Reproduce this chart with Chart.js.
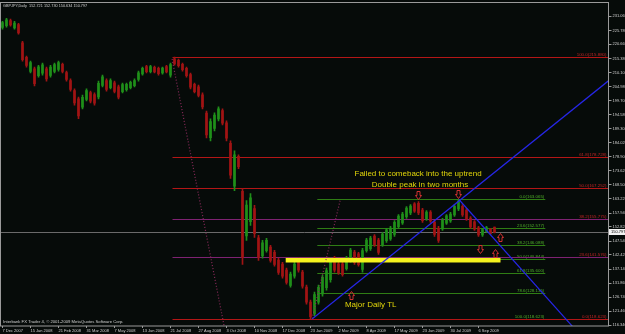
<!DOCTYPE html>
<html>
<head>
<meta charset="utf-8">
<script src="https://cdn.jsdelivr.net/npm/chart.js@4.4.1/dist/chart.umd.min.js"></script>
<style>
  html, body { margin: 0; padding: 0; background: #060b09; }
  #wrap { width: 625px; height: 334px; }
</style>
</head>
<body>
<div id="wrap"><canvas id="c" width="625" height="334"></canvas></div>
<script>
const dateTicks = ['7 Dec 2007', '15 Jan 2008', '21 Feb 2008', '31 Mar 2008', '7 May 2008', '13 Jun 2008',
  '21 Jul 2008', '27 Aug 2008', '3 Oct 2008', '10 Nov 2008', '17 Dec 2008', '23 Jan 2009',
  '2 Mar 2009', '8 Apr 2009', '17 May 2009', '23 Jun 2009', '30 Jul 2009', '6 Sep 2009'];

const opens = [
  226.9, 227.6, 229.5, 226.8, 228.0, 221.2, 215.8, 210.6,
  211.6, 209.0, 209.9, 211.6, 209.1, 210.6, 211.3, 213.2,
  210.2, 207.2, 203.5, 200.4, 197.3, 200.2, 202.7, 202.0,
  201.1, 205.4, 207.2, 204.6, 206.4, 204.9, 203.1, 203.8,
  204.6, 205.3, 207.6, 209.7, 212.4, 210.5, 212.1, 211.7,
  210.0, 212.4, 209.2, 215.3, 214.7, 213.2, 211.7, 209.4,
  205.8, 204.9, 201.9, 195.1, 186.0, 189.4, 192.9, 196.0,
  191.5, 183.9, 168.0, 179.0, 166.0, 149.5, 154.8, 159.6,
  148.8, 142.0, 144.0, 145.3, 143.4, 140.5, 139.0, 136.8,
  131.1, 134.5, 140.5, 136.0, 130.5, 124.9, 120.5, 124.9,
  127.9, 130.2, 133.2, 141.2, 139.1, 139.1, 137.3, 140.3,
  143.5, 142.8, 137.0, 144.0, 144.7, 149.4, 147.9, 146.2,
  147.7, 148.4, 150.0, 152.9, 154.3, 156.6, 158.0, 161.4,
  161.6, 159.1, 155.8, 158.3, 154.6, 152.3, 152.1, 154.2,
  155.0, 157.3, 159.5, 160.5, 159.1, 156.1, 154.7, 152.5,
  149.8, 151.1, 152.0, 152.72];
const highs = [
  229.2, 230.3, 230.0, 229.2, 228.5, 221.8, 216.3, 214.4,
  212.2, 212.9, 213.7, 212.2, 212.9, 213.7, 214.4, 213.7,
  210.7, 207.8, 204.1, 201.1, 201.8, 204.1, 203.3, 202.6,
  207.0, 209.2, 207.8, 207.8, 207.0, 205.5, 206.3, 206.3,
  207.0, 207.8, 210.7, 212.2, 212.9, 212.9, 212.6, 212.2,
  212.2, 212.9, 213.7, 215.88, 215.2, 213.7, 212.2, 210.0,
  206.3, 205.5, 202.6, 195.9, 193.0, 195.2, 197.4, 196.7,
  192.2, 184.8, 181.1, 179.6, 167.1, 162.6, 165.2, 160.8,
  149.7, 147.8, 148.6, 146.0, 144.1, 141.2, 139.7, 137.5,
  136.0, 139.7, 141.2, 136.7, 131.2, 125.6, 128.6, 131.2,
  134.9, 137.5, 141.2, 141.9, 139.7, 139.7, 141.9, 144.9,
  144.1, 143.4, 144.9, 148.6, 149.3, 150.0, 148.6, 150.8,
  152.3, 153.0, 155.2, 157.4, 158.2, 160.4, 161.1, 161.9,
  162.2, 159.7, 158.9, 158.9, 155.2, 153.0, 156.0, 157.4,
  158.2, 161.1, 163.06, 161.1, 159.7, 156.7, 155.2, 153.0,
  152.3, 153.0, 152.3, 152.73];
const lows = [
  226.3, 227.0, 227.4, 226.3, 224.4, 214.4, 212.2, 210.0,
  205.2, 208.5, 209.2, 207.0, 208.5, 210.0, 210.7, 210.0,
  207.0, 203.3, 198.1, 193.0, 196.7, 199.6, 198.9, 198.1,
  200.4, 204.8, 203.3, 204.1, 202.6, 200.4, 202.6, 203.3,
  204.1, 204.8, 207.0, 209.2, 210.0, 210.0, 210.0, 209.2,
  209.6, 210.0, 208.5, 212.9, 212.2, 210.7, 208.5, 204.1,
  202.6, 201.1, 196.7, 185.9, 184.8, 188.5, 192.2, 190.7,
  184.8, 170.8, 166.3, 174.5, 138.9, 147.8, 153.4, 148.9,
  140.4, 141.2, 143.4, 139.7, 138.2, 135.2, 133.8, 131.5,
  130.4, 133.8, 136.0, 130.1, 124.1, 118.62, 119.7, 124.1,
  127.1, 129.3, 132.3, 136.0, 135.2, 134.5, 136.7, 139.7,
  138.9, 138.2, 136.0, 143.4, 144.1, 145.6, 142.6, 145.6,
  147.1, 147.8, 149.3, 152.3, 153.7, 156.0, 157.4, 158.2,
  157.4, 154.5, 155.2, 154.5, 149.3, 147.1, 151.5, 153.7,
  154.5, 156.7, 158.9, 156.7, 155.2, 152.3, 151.5, 149.3,
  149.3, 150.8, 150.0, 150.63];
const closes = [
  228.7, 229.8, 227.9, 228.6, 224.9, 215.0, 212.8, 213.9,
  206.0, 212.3, 213.0, 207.8, 212.2, 213.1, 213.9, 210.6,
  207.6, 203.9, 198.9, 194.1, 201.0, 203.5, 199.5, 198.8,
  206.2, 208.6, 203.9, 207.2, 203.2, 201.0, 205.7, 205.8,
  206.5, 207.2, 210.1, 211.7, 210.5, 212.4, 210.4, 209.8,
  211.8, 210.4, 213.1, 213.4, 212.7, 211.2, 209.0, 204.7,
  203.1, 201.7, 197.4, 187.0, 192.0, 194.4, 196.7, 191.4,
  185.8, 172.0, 179.6, 175.2, 141.5, 160.9, 163.6, 150.3,
  141.5, 146.9, 147.8, 140.4, 138.9, 135.9, 134.5, 132.2,
  135.3, 139.0, 136.7, 130.8, 124.9, 119.5, 127.7, 130.4,
  134.1, 136.6, 140.3, 136.7, 135.8, 135.1, 141.3, 144.2,
  139.5, 138.8, 144.0, 147.9, 148.7, 146.2, 143.3, 150.2,
  151.7, 152.4, 154.5, 156.8, 157.6, 159.8, 160.6, 158.7,
  158.0, 155.1, 158.3, 155.0, 150.0, 147.8, 155.4, 156.9,
  157.6, 160.5, 162.4, 157.3, 155.8, 152.8, 152.0, 149.8,
  151.8, 152.6, 150.4, 150.797];

const yTicks = [116.340, 121.460, 126.740, 131.860, 137.140, 142.420, 147.540, 152.820, 157.940,
  163.220, 168.500, 173.620, 178.900, 184.020, 189.300, 194.580, 199.700, 204.980, 210.100,
  215.380, 220.660, 225.780, 231.060];

const redFibNames = ['100.0', '61.8', '50.0', '38.2', '23.6', '0.0'];
const redFibLevels = [215.880, 178.728, 167.252, 155.775, 141.576, 118.623];
const greenFibNames = ['0.0', '23.6', '38.2', '50.0', '61.8', '78.6', '100.0'];
const greenFibLevels = [163.065, 152.577, 146.088, 140.844, 135.600, 128.135, 118.623];

const title = 'GBPJPY,Daily  152.721 152.730 150.634 150.797';
const lastPrice = 150.797;

// trend lines: [bar index, price]
const trendLines = [
  { from: [77.4, 118.62], to: [151.4, 207.0], dotted: false },
  { from: [114.1, 163.0], to: [142.4, 116.0], dotted: false },
  { from: [42.4, 215.2], to: [55.4, 116.0], dotted: true },
  { from: [77.4, 118.8], to: [84.4, 162.6], dotted: true }
];
const arrows = [
  { at: [103.9, 164.8], dir: 'down' },
  { at: [113.9, 165.2], dir: 'down' },
  { at: [119.4, 144.5], dir: 'down' },
  { at: [124.4, 148.9], dir: 'up' },
  { at: [123.1, 143.0], dir: 'up' },
  { at: [87.1, 127.4], dir: 'up' }
];
const notes = [
  { text: 'Failed to comeback into the uptrend', at: [88.0, 172.6] },
  { text: 'Double peak in two months', at: [92.3, 168.5] },
  { text: 'Major Daily TL', at: [85.6, 123.8] }
];
const zone = { from: 70.8, to: 124.5, top: 141.3, bottom: 139.6 };

const BG = '#060b09';
const UP = '#1f8f1a';
const DOWN = '#a01414';
const categories = Array.from({ length: 152 }, (_, i) => i % 7 === 0 ? (dateTicks[i / 7] || '') : '');
const colors = closes.map((c, i) => c >= opens[i] ? UP : DOWN);

function hline(ctx, x1, x2, y, color) {
  const yy = Math.round(y) + 0.5;
  ctx.strokeStyle = color;
  ctx.lineWidth = 1;
  ctx.beginPath();
  ctx.moveTo(x1, yy);
  ctx.lineTo(x2, yy);
  ctx.stroke();
}

const overlay = {
  id: 'overlay',
  beforeDraw(chart) {
    const ctx = chart.ctx;
    ctx.save();
    ctx.fillStyle = BG;
    ctx.fillRect(0, 0, chart.width, chart.height);
    ctx.restore();
  },
  beforeDatasetsDraw(chart) {
    const { ctx, chartArea: a, scales: { x, y } } = chart;
    ctx.save();
    ctx.beginPath();
    ctx.rect(a.left, a.top, a.right - a.left, a.bottom - a.top);
    ctx.clip();

    hline(ctx, a.left, a.right, y.getPixelForValue(lastPrice), '#6a6a6a');

    ctx.font = '4.4px "Liberation Sans", Arial, sans-serif';
    ctx.textAlign = 'right';
    ctx.textBaseline = 'bottom';

    const gx1 = x.getPixelForValue(78.7), gx2 = x.getPixelForValue(135.7);
    greenFibLevels.forEach((lv, i) => {
      const py = y.getPixelForValue(lv);
      hline(ctx, gx1, gx2, py, '#2f7d14');
      ctx.fillStyle = '#4fae2a';
      ctx.fillText(greenFibNames[i] + '(' + lv.toFixed(3) + ')', gx2 - 1, Math.round(py));
    });

    const rx1 = x.getPixelForValue(42.5);
    const redColors = ['#b31616', '#b31616', '#b31616', '#7e2272', '#7e2272', '#b31616'];
    redFibLevels.forEach((lv, i) => {
      const py = y.getPixelForValue(lv);
      hline(ctx, rx1, a.right, py, redColors[i]);
      ctx.fillStyle = '#c42424';
      ctx.fillText(redFibNames[i] + '(' + lv.toFixed(3) + ')', a.right - 2, Math.round(py));
    });
    ctx.restore();
  },
  afterDatasetsDraw(chart) {
    const { ctx, chartArea: a, scales: { x, y } } = chart;
    ctx.save();
    ctx.beginPath();
    ctx.rect(a.left, a.top, a.right - a.left, a.bottom - a.top);
    ctx.clip();

    // yellow zone
    const zx1 = x.getPixelForValue(zone.from), zx2 = x.getPixelForValue(zone.to);
    const zy1 = y.getPixelForValue(zone.top), zy2 = y.getPixelForValue(zone.bottom);
    ctx.fillStyle = '#f4f21e';
    ctx.fillRect(zx1, zy1, zx2 - zx1, zy2 - zy1);

    // trend lines
    trendLines.forEach(t => {
      const x1 = x.getPixelForValue(t.from[0]), y1 = y.getPixelForValue(t.from[1]);
      const x2 = x.getPixelForValue(t.to[0]), y2 = y.getPixelForValue(t.to[1]);
      ctx.beginPath();
      if (t.dotted) {
        ctx.setLineDash([1, 2]);
        ctx.strokeStyle = '#8a2a5a';
        ctx.moveTo(x1, y1);
        ctx.lineTo(x2, y2);
      } else {
        ctx.setLineDash([]);
        ctx.strokeStyle = '#2626e6';
        const k = 3;
        ctx.moveTo(x1, y1);
        ctx.lineTo(x1 + (x2 - x1) * k, y1 + (y2 - y1) * k);
      }
      ctx.lineWidth = 1.2;
      ctx.stroke();
    });
    ctx.setLineDash([]);

    // arrows
    ctx.strokeStyle = '#d03030';
    ctx.lineWidth = 1;
    arrows.forEach(ar => {
      const cx = Math.round(x.getPixelForValue(ar.at[0])) + 0.5;
      const cy = Math.round(y.getPixelForValue(ar.at[1])) + 0.5;
      const s = ar.dir === 'down' ? 1 : -1;
      ctx.beginPath();
      ctx.moveTo(cx - 1.5, cy - 4 * s);
      ctx.lineTo(cx + 1.5, cy - 4 * s);
      ctx.lineTo(cx + 1.5, cy);
      ctx.lineTo(cx + 3, cy);
      ctx.lineTo(cx, cy + 4 * s);
      ctx.lineTo(cx - 3, cy);
      ctx.lineTo(cx - 1.5, cy);
      ctx.closePath();
      ctx.stroke();
    });

    // notes
    ctx.fillStyle = '#e2d60a';
    ctx.font = '8px "Liberation Sans", Arial, sans-serif';
    ctx.textAlign = 'left';
    ctx.textBaseline = 'middle';
    notes.forEach(n => {
      ctx.fillText(n.text, x.getPixelForValue(n.at[0]), y.getPixelForValue(n.at[1]));
    });
    ctx.restore();
  },
  afterDraw(chart) {
    const { ctx, chartArea: a, scales: { y } } = chart;
    ctx.save();
    // frame
    ctx.strokeStyle = '#9a9a9a';
    ctx.lineWidth = 1;
    ctx.strokeRect(Math.floor(a.left) + 0.5, Math.floor(a.top) - 0.5, Math.floor(a.right) - Math.floor(a.left), Math.floor(a.bottom) - Math.floor(a.top) + 0.5);

    ctx.font = '3.8px "Liberation Sans", Arial, sans-serif';
    ctx.textBaseline = 'middle';
    ctx.textAlign = 'left';
    ctx.fillStyle = '#cfcfcf';
    ctx.fillText(title, 3, 5.5);
    ctx.font = '4.2px "Liberation Sans", Arial, sans-serif';
    ctx.fillText('Interbank FX Trader 4, \u00a9 2001-2009 MetaQuotes Software Corp.', 3, 321.5);

    // current price marker
    const py = Math.round(y.getPixelForValue(lastPrice));
    ctx.fillStyle = '#f2f2f2';
    ctx.fillRect(609, py - 3, 16, 6);
    ctx.fillStyle = '#000000';
    ctx.font = '4px "Liberation Sans", Arial, sans-serif';
    ctx.fillText(lastPrice.toFixed(3), 611, py);
    ctx.restore();
  }
};

const axisFont = { family: '"Liberation Sans", Arial, sans-serif', size: 4 };

new Chart(document.getElementById('c'), {
  type: 'bar',
  data: {
    labels: categories,
    datasets: [
      {
        data: lows.map((l, i) => [l, highs[i]]),
        backgroundColor: colors,
        barThickness: 1,
        grouped: false,
        borderWidth: 0
      },
      {
        data: opens.map((o, i) => [o, closes[i]]),
        backgroundColor: colors,
        barThickness: 2,
        grouped: false,
        borderWidth: 0
      }
    ]
  },
  options: {
    responsive: false,
    animation: false,
    events: [],
    layout: { padding: { top: 2, left: 0.5, right: 0, bottom: 0 } },
    plugins: { legend: { display: false }, tooltip: { enabled: false } },
    scales: {
      x: {
        type: 'category',
        offset: true,
        border: { display: false },
        grid: { drawOnChartArea: false, offset: false, tickLength: 2, color: '#9a9a9a' },
        ticks: {
          autoSkip: false, maxRotation: 0, minRotation: 0, align: 'start', padding: 0,
          color: '#cfcfcf', font: axisFont
        },
        afterBuildTicks: s => { s.ticks = s.ticks.filter(t => categories[t.value] !== ''); },
        afterFit: s => { s.height = 8; }
      },
      y: {
        position: 'right',
        min: 116.0,
        max: 235.87,
        border: { display: false },
        grid: { drawOnChartArea: false, tickLength: 3, color: '#9a9a9a' },
        ticks: {
          autoSkip: false, padding: 1, color: '#cfcfcf', font: axisFont,
          callback: v => Number(v).toFixed(3)
        },
        afterBuildTicks: s => { s.ticks = yTicks.map(v => ({ value: v })); },
        afterFit: s => { s.width = 16.5; }
      }
    }
  },
  plugins: [overlay]
});
</script>
</body>
</html>
